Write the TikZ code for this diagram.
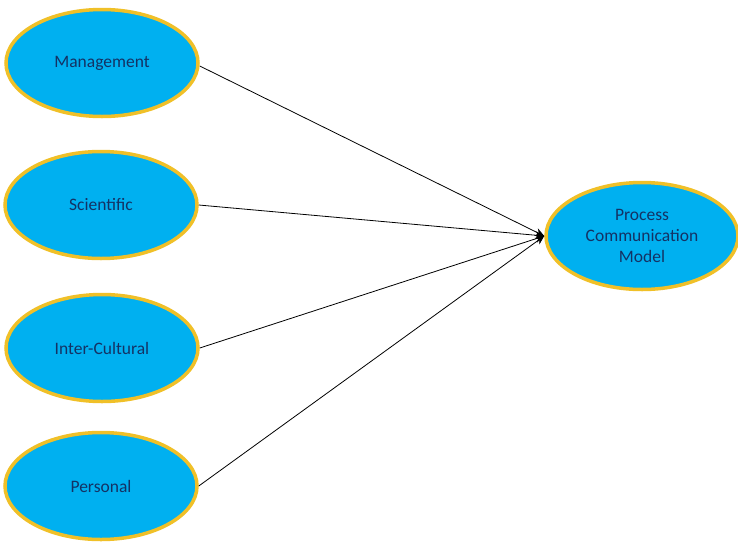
\documentclass[tikz,border=0pt]{standalone}
\usepackage{fontspec}
\setmainfont{Carlito}
\usetikzlibrary{shapes.geometric,arrows.meta}
\definecolor{ellfill}{RGB}{0,176,240}
\definecolor{ellborder}{RGB}{240,192,40}
\definecolor{elltext}{RGB}{20,50,100}
\tikzset{
  ellnode/.style={ellipse, draw=ellborder, line width=3.5pt, fill=ellfill,
    minimum width=192pt, minimum height=107pt, inner sep=0pt,
    text=elltext, font=\fontsize{17.5}{21}\selectfont, align=center},
  conn/.style={black, line width=0.8pt, -{Stealth[length=9pt,width=8pt]}}
}
\begin{document}
\begin{tikzpicture}[x=1pt,y=-1pt]
\useasboundingbox (0,0) rectangle (738,544);
\node[ellnode] (mgmt) at (102,63) {Management};
\node[ellnode] (sci) at (101,205) {Scientific};
\node[ellnode] (inter) at (102,348) {Inter-Cultural};
\node[ellnode] (pers) at (101,486) {Personal};
\node[ellnode] (pcm) at (642,236) {Process\\Communication\\Model};
\coordinate (tip) at (pcm.west);
\draw[conn] (mgmt.east) ++(0,3) -- (tip);
\draw[conn] (sci.east) -- (tip);
\draw[conn] (inter.east) -- (tip);
\draw[conn] (pers.east) -- (tip);
\end{tikzpicture}
\end{document}
